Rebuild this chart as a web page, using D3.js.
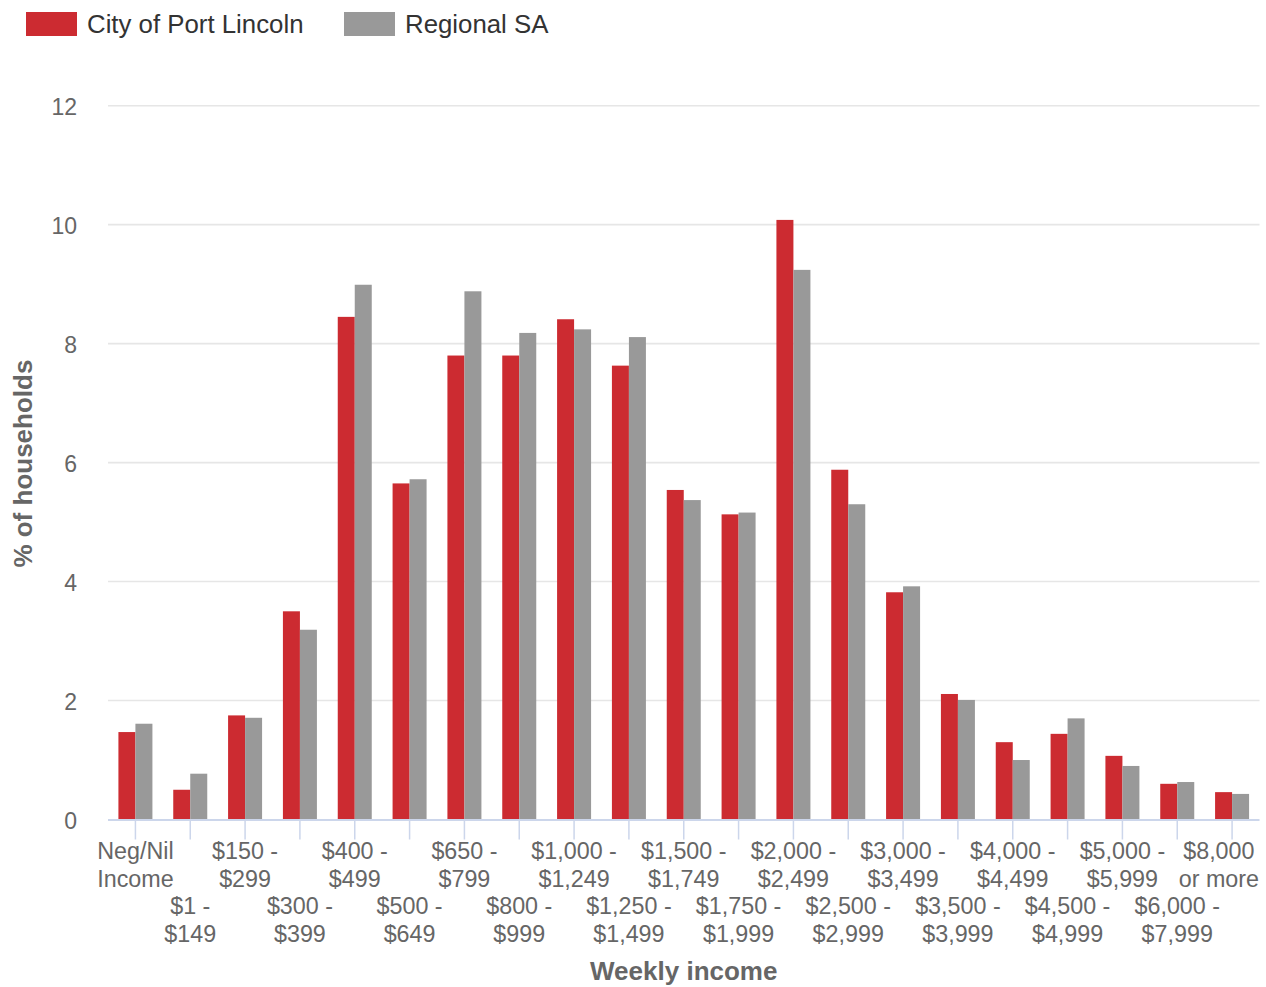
<!DOCTYPE html>
<html>
<head>
<meta charset="utf-8">
<script src="https://cdn.jsdelivr.net/npm/d3@7/dist/d3.min.js"></script>
<style>
  html, body { margin: 0; padding: 0; background: #fff; }
  svg { display: block; font-family: "Liberation Sans", Arial, sans-serif; }
</style>
</head>
<body>
<svg id="chart" width="1266" height="987"></svg>
<script>
const categories = [
  ["Neg/Nil", "Income"], ["$1 -", "$149"], ["$150 -", "$299"], ["$300 -", "$399"],
  ["$400 -", "$499"], ["$500 -", "$649"], ["$650 -", "$799"], ["$800 -", "$999"],
  ["$1,000 -", "$1,249"], ["$1,250 -", "$1,499"], ["$1,500 -", "$1,749"], ["$1,750 -", "$1,999"],
  ["$2,000 -", "$2,499"], ["$2,500 -", "$2,999"], ["$3,000 -", "$3,499"], ["$3,500 -", "$3,999"],
  ["$4,000 -", "$4,499"], ["$4,500 -", "$4,999"], ["$5,000 -", "$5,999"], ["$6,000 -", "$7,999"],
  ["$8,000", "or more"]
];
const seriesNames = ["City of Port Lincoln", "Regional SA"];
const seriesColors = ["#cc2b31", "#999999"];
const portLincoln = [1.47, 0.50, 1.75, 3.50, 8.45, 5.65, 7.80, 7.80, 8.41, 7.63, 5.54, 5.13, 10.08, 5.88, 3.82, 2.11, 1.30, 1.44, 1.07, 0.60, 0.46];
const regionalSA  = [1.61, 0.77, 1.71, 3.19, 8.99, 5.72, 8.88, 8.18, 8.24, 8.11, 5.37, 5.16, 9.24, 5.30, 3.92, 2.01, 1.00, 1.70, 0.90, 0.63, 0.43];
const yTicks = [0, 2, 4, 6, 8, 10, 12];
const xTitle = "Weekly income";
const yTitle = "% of households";

const svg = d3.select("#chart");
const pLeft = 108, pRight = 1259.5, pTop = 105.7, pBottom = 819.5;
const idx = d3.range(categories.length);
const x = d3.scaleBand().domain(idx).range([pLeft, pRight]).padding(0);
const barW = 17;
const xs = d3.scaleBand().domain([0, 1]).range([-barW, barW]).padding(0);
const y = d3.scaleLinear().domain([0, 12]).range([pBottom, pTop]);
const cx = i => x(i) + x.bandwidth() / 2;

// gridlines
svg.append("g").selectAll("line").data(yTicks.filter(d => d > 0)).join("line")
  .attr("x1", pLeft).attr("x2", pRight)
  .attr("y1", d => y(d)).attr("y2", d => y(d))
  .attr("stroke", "#e6e6e6").attr("stroke-width", 1.6);

// y labels
svg.append("g").selectAll("text").data(yTicks).join("text")
  .attr("x", 77).attr("y", d => y(d) + 9)
  .attr("text-anchor", "end").attr("font-size", 23).attr("fill", "#666")
  .text(d => d);

// bars
const data = [portLincoln, regionalSA];
data.forEach((vals, s) => {
  svg.append("g").selectAll("rect").data(vals).join("rect")
    .attr("x", (d, i) => cx(i) + xs(s))
    .attr("width", xs.bandwidth())
    .attr("y", d => y(d))
    .attr("height", d => y(0) - y(d))
    .attr("fill", seriesColors[s]);
});

// x axis line and ticks
svg.append("line").attr("x1", pLeft).attr("x2", pRight).attr("y1", pBottom + 0.5).attr("y2", pBottom + 0.5)
  .attr("stroke", "#ccd6eb").attr("stroke-width", 2);
svg.append("g").selectAll("line").data(idx).join("line")
  .attr("x1", cx).attr("x2", cx)
  .attr("y1", pBottom + 1).attr("y2", pBottom + 20)
  .attr("stroke", "#ccd6eb").attr("stroke-width", 1.5);

// x labels (staggered)
const lab = svg.append("g").selectAll("text").data(idx).join("text")
  .attr("x", cx)
  .attr("text-anchor", "middle").attr("font-size", 23.3).attr("fill", "#666");
lab.each(function(i) {
  const t = d3.select(this);
  const base = i % 2 === 0 ? 859 : 914;
  categories[i].forEach((line, k) => {
    t.append("tspan").attr("x", cx(i)).attr("y", base + k * 27.5).text(line);
  });
  const bb = this.getBBox();
  const overflow = bb.x + bb.width - 1259;
  if (overflow > 0) {
    t.selectAll("tspan").attr("x", cx(i) - overflow);
  }
});

// axis titles
svg.append("text").attr("x", (pLeft + pRight) / 2).attr("y", 980)
  .attr("text-anchor", "middle").attr("font-size", 26).attr("font-weight", "bold").attr("fill", "#666")
  .text(xTitle);
svg.append("text").attr("transform", `translate(32,${(pTop + pBottom) / 2 + 1}) rotate(-90)`)
  .attr("text-anchor", "middle").attr("font-size", 26).attr("font-weight", "bold").attr("fill", "#666")
  .text(yTitle);

// legend
const legendX = [26, 344];
seriesNames.forEach((n, s) => {
  const g = svg.append("g").attr("transform", `translate(${legendX[s]},12)`);
  g.append("rect").attr("width", 51).attr("height", 24).attr("fill", seriesColors[s]);
  g.append("text").attr("x", 61).attr("y", 21).attr("font-size", 25.8).attr("fill", "#333").text(n);
});
</script>
</body>
</html>
